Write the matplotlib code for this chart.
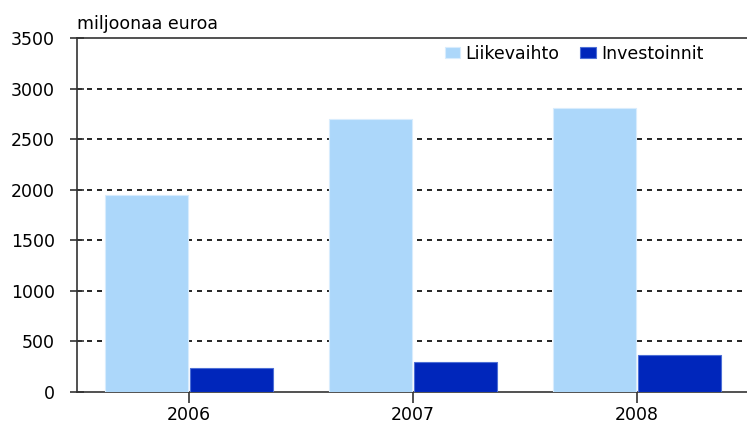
import matplotlib.pyplot as plt
import numpy as np

years = ["2006", "2007", "2008"]
liikevaihto = [1950, 2700, 2810]
investoinnit = [240, 300, 365]

plt.rcParams['font.family'] = ['DejaVu Sans']

fig = plt.figure(figsize=(7.47, 4.30), dpi=100)
ax = fig.add_axes([77/747, 38/430, 670/747, 354/430])

x = np.arange(len(years))
w = 0.37
ax.bar(x - w/2 - 0.005, liikevaihto, w, color="#acd7fa", edgecolor="#d8ecfd", linewidth=0.8,
       label="Liikevaihto", zorder=3)
ax.bar(x + w/2 + 0.005, investoinnit, w, color="#0026bb", edgecolor="#4d6fd6", linewidth=0.8,
       label="Investoinnit", zorder=3)

ax.set_xlim(-0.5, 2.49)
ax.set_ylim(0, 3500)
ax.set_yticks(np.arange(0, 3501, 500))
ax.set_xticks(x)
ax.set_xticklabels(years)

ax.yaxis.grid(True, linestyle=(0, (3, 3)), color="black", linewidth=1.2, zorder=0)
ax.set_axisbelow(True)
gl = ax.yaxis.get_gridlines()
gl[0].set_visible(False)
gl[-1].set_visible(False)

for s in ["left", "bottom", "top"]:
    ax.spines[s].set_color("#333333")
    ax.spines[s].set_linewidth(1.2)
ax.spines["right"].set_visible(False)

ax.tick_params(axis="y", direction="inout", length=10, width=1.2, color="#333333",
               labelsize=12.5, pad=11)
ax.tick_params(axis="x", direction="out", length=8, width=1.2, color="#333333",
               labelsize=12.5, pad=2)

ax.text(0, 1.015, "miljoonaa euroa", transform=ax.transAxes, fontsize=12.5,
        ha="left", va="bottom")

ax.legend(loc="upper right", bbox_to_anchor=(0.945, 1.0), frameon=False, ncol=2,
          fontsize=12.5, handlelength=0.92, handleheight=0.57, handletextpad=0.3,
          columnspacing=1.15, borderaxespad=0)

fig.savefig("out.png", dpi=100)
